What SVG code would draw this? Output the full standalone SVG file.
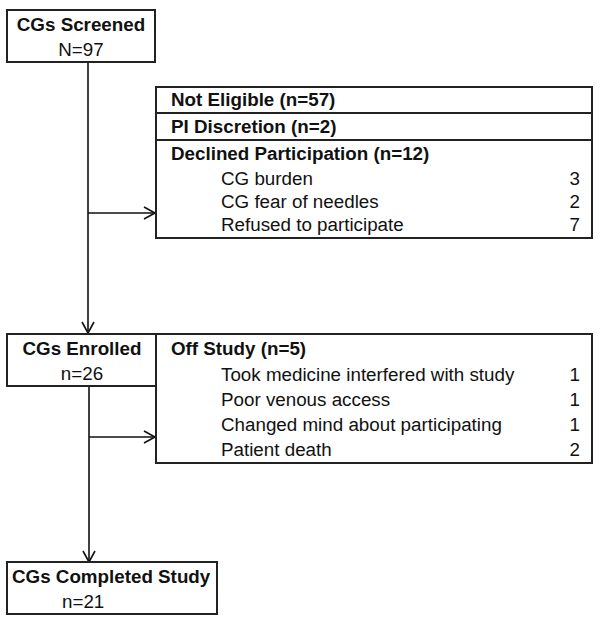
<svg xmlns="http://www.w3.org/2000/svg" width="602" height="623" viewBox="0 0 602 623">
<style>
.box{fill:#fff;stroke:#222;stroke-width:2}
.div{stroke:#222;stroke-width:2}
.ln{stroke:#111;stroke-width:1.6;fill:none}
.ah{stroke:#111;stroke-width:1.6;fill:none}
text{font-family:"Liberation Sans",Arial,sans-serif;font-size:18.8px;fill:#111}
.b{font-weight:bold}
.c{text-anchor:middle}
.r{text-anchor:end}
</style>
<rect width="602" height="623" fill="#fff"/>
<g id="connectors">
<line class="ln" x1="88" y1="62" x2="88" y2="333"/>
<polyline class="ah" points="82,322 88,333 94,322"/>
<line class="ln" x1="88" y1="213" x2="155" y2="213"/>
<polyline class="ah" points="144,207 155,213 144,219"/>
<line class="ln" x1="89" y1="386" x2="89" y2="562"/>
<polyline class="ah" points="83,551 89,562 95,551"/>
<line class="ln" x1="89" y1="437" x2="155" y2="437"/>
<polyline class="ah" points="144,431 155,437 144,443"/>
</g>
<g id="screened">
<rect class="box" x="7" y="10" width="148" height="52"/>
<text class="b c" x="81" y="31">CGs Screened</text>
<text class="c" x="81" y="56">N=97</text>
</g>
<g id="excluded">
<rect class="box" x="156" y="87" width="436" height="151"/>
<line class="div" x1="156" y1="113" x2="592" y2="113"/>
<line class="div" x1="156" y1="140" x2="592" y2="140"/>
<text class="b" x="171" y="106">Not Eligible (n=57)</text>
<text class="b" x="171" y="133">PI Discretion (n=2)</text>
<text class="b" x="171" y="160">Declined Participation (n=12)</text>
<text x="221" y="185">CG burden</text>
<text class="r" x="580" y="185">3</text>
<text x="221" y="208">CG fear of needles</text>
<text class="r" x="580" y="208">2</text>
<text x="221" y="231">Refused to participate</text>
<text class="r" x="580" y="231">7</text>
</g>
<g id="enrolled">
<rect class="box" x="7" y="334" width="149" height="52"/>
<text class="b c" x="82" y="355">CGs Enrolled</text>
<text class="c" x="82" y="380">n=26</text>
</g>
<g id="offstudy">
<rect class="box" x="156" y="334" width="436" height="129"/>
<text class="b" x="171" y="355">Off Study (n=5)</text>
<text x="221" y="381">Took medicine interfered with study</text>
<text class="r" x="580" y="381">1</text>
<text x="221" y="406">Poor venous access</text>
<text class="r" x="580" y="406">1</text>
<text x="221" y="431">Changed mind about participating</text>
<text class="r" x="580" y="431">1</text>
<text x="221" y="456">Patient death</text>
<text class="r" x="580" y="456">2</text>
</g>
<g id="completed">
<rect class="box" x="7" y="562" width="210" height="52"/>
<text class="b" x="12" y="583">CGs Completed Study</text>
<text x="62" y="608">n=21</text>
</g>
</svg>
